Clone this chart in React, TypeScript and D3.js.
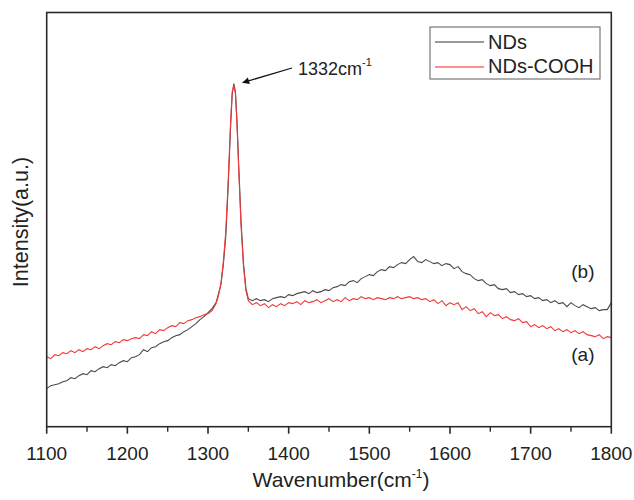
import React from "react";
import * as d3 from "d3";

// Wavenumber grid (cm-1)
const wnLow = d3.range(1100, 1301, 5);
const wnPeak = [1305, 1310, 1313, 1316, 1319, 1322, 1325, 1328, 1330, 1332, 1334, 1336, 1338, 1341, 1344, 1347, 1350, 1355];
const wnHigh = d3.range(1360, 1801, 5);
const wavenumbers = [...wnLow, ...wnPeak, ...wnHigh];

// NDs (b) intensity, arbitrary units
const ndsLow = [
  38, 41, 42, 43, 45, 46, 49, 48, 51, 53,
  52, 56, 55, 58, 60, 59, 62, 61, 64, 66,
  65, 69, 70, 72, 77, 75, 79, 80, 83, 85,
  86, 89, 91, 92, 95, 97, 100, 103, 107, 110,
  114,
];
const ndsPeak = [118, 124, 133, 142, 162, 190, 240, 300, 332, 343, 335, 305, 262, 205, 163, 138, 128, 126];
const ndsHigh = [
  128, 126, 127, 125, 128, 129, 130, 129, 132, 131,
  133, 134, 135, 133, 136, 134, 135, 137, 136, 139,
  140, 142, 141, 145, 146, 144, 148, 150, 152, 151,
  155, 157, 156, 160, 159, 162, 164, 163, 167, 170,
  165, 164, 167, 165, 163, 164, 161, 163, 162, 158,
  160, 155, 153, 152, 148, 146, 147, 143, 141, 142,
  138, 137, 138, 134, 135, 132, 133, 130, 131, 128,
  129, 126, 127, 124, 126, 123, 124, 120, 124, 121,
  119, 122, 120, 118, 119, 116, 117, 117, 124,
];

// NDs-COOH (a) intensity
const coohLow = [
  70, 68, 72, 71, 74, 73, 76, 74, 77, 75,
  78, 77, 80, 78, 81, 83, 82, 85, 84, 87,
  86, 88, 89, 88, 92, 91, 95, 93, 97, 96,
  99, 101, 100, 104, 103, 106, 107, 109, 110, 112,
  113,
];
const coohPeak = [116, 123, 131, 143, 165, 195, 245, 305, 335, 341, 333, 300, 258, 200, 160, 136, 126, 122];
const coohHigh = [
  124, 121, 123, 119, 122, 120, 123, 121, 124, 123,
  125, 122, 126, 124, 125, 127, 124, 126, 128, 125,
  127, 125, 129, 126, 128, 127, 130, 128, 129, 127,
  129, 128, 127, 129, 128, 130, 128, 129, 130, 128,
  129, 127, 128, 125, 127, 123, 126, 121, 124, 122,
  124, 117, 120, 116, 118, 113, 115, 110, 114, 111,
  112, 108, 110, 107, 106, 108, 104, 105, 100, 102,
  99, 101, 98, 100, 96, 98, 95, 97, 94, 96,
  93, 95, 92, 91, 90, 92, 88, 90, 89,
];

const ndsValues = [...ndsLow, ...ndsPeak, ...ndsHigh];
const coohValues = [...coohLow, ...coohPeak, ...coohHigh];

const majorTicks = [1100, 1200, 1300, 1400, 1500, 1600, 1700, 1800];
const minorTicks = [1150, 1250, 1350, 1450, 1550, 1650, 1750];

const seriesNames = ["NDs", "NDs-COOH"];
const seriesColors = ["#4a4a4a", "#f03a3a"];
const legendColors = ["#777777", "#ff6a6a"];
const curveLabels = ["(b)", "(a)"];
const peakLabel = "1332";
const peakPos = 1332;

const FONT = "Arial, 'Liberation Sans', Helvetica, sans-serif";

export default function App() {
  const W = 634;
  const H = 500;
  const left = 46.7;
  const right = 611.3;
  const top = 12.5;
  const bottom = 426.7;

  const x = d3.scaleLinear().domain([1100, 1800]).range([left, right]);
  const y = d3.scaleLinear().domain([0, 414]).range([bottom, top]);

  const mk = (vals: number[]) =>
    d3
      .line<number>()
      .x((_, i) => x(wavenumbers[i]))
      .y((v) => y(v))(vals.slice(0, wavenumbers.length)) || "";

  const peakIdx = wavenumbers.indexOf(peakPos);
  const peakX = x(peakPos);
  const peakY = y(Math.max(ndsValues[peakIdx], coohValues[peakIdx]));

  const lastIdx = wavenumbers.length - 1;

  return (
    <svg
      width={W}
      height={H}
      style={{ position: "absolute", left: 0, top: 0, background: "#fff" }}
      fontFamily={FONT}
    >
      <defs>
        <marker id="arr" viewBox="0 0 10 10" refX="9" refY="5" markerWidth="9" markerHeight="7" orient="auto" markerUnits="userSpaceOnUse">
          <path d="M0,0 L10,5 L0,10 z" fill="#111" />
        </marker>
      </defs>

      {/* series */}
      <path d={mk(ndsValues)} fill="none" stroke={seriesColors[0]} strokeWidth={1.1} />
      <path d={mk(coohValues)} fill="none" stroke={seriesColors[1]} strokeWidth={1.1} />

      {/* frame */}
      <rect x={left} y={top} width={right - left} height={bottom - top} fill="none" stroke="#2a2a2a" strokeWidth={1.6} />

      {/* x ticks */}
      {majorTicks.map((t) => (
        <g key={"M" + t}>
          <line x1={x(t)} x2={x(t)} y1={bottom} y2={bottom + 7} stroke="#2a2a2a" strokeWidth={1.6} />
          <text x={x(t)} y={bottom + 33} textAnchor="middle" fontSize={19} fill="#222">
            {t}
          </text>
        </g>
      ))}
      {minorTicks.map((t) => (
        <line key={"m" + t} x1={x(t)} x2={x(t)} y1={bottom} y2={bottom + 5} stroke="#2a2a2a" strokeWidth={1.4} />
      ))}

      {/* axis titles */}
      <text x={(left + right) / 2 + 12} y={487} textAnchor="middle" fontSize={21} fill="#222">
        Wavenumber(cm
        <tspan dy={-9} fontSize={12}>-1</tspan>
        <tspan dy={9}>)</tspan>
      </text>
      <text
        transform={`translate(28,${222}) rotate(-90)`}
        textAnchor="middle"
        fontSize={21.5}
        fill="#222"
      >
        Intensity(a.u.)
      </text>

      {/* peak annotation */}
      <line x1={292} y1={68} x2={peakX + 9} y2={peakY - 1} stroke="#111" strokeWidth={1.3} markerEnd="url(#arr)" />
      <text x={298} y={75} fontSize={18} fill="#222">
        {peakLabel}cm
        <tspan dy={-9} fontSize={11}>-1</tspan>
      </text>

      {/* curve labels */}
      <text x={x(wavenumbers[lastIdx]) - 40} y={y(ndsValues[lastIdx]) - 25} fontSize={19} fill="#222">
        {curveLabels[0]}
      </text>
      <text x={x(wavenumbers[lastIdx]) - 40} y={y(coohValues[lastIdx]) + 23} fontSize={19} fill="#222">
        {curveLabels[1]}
      </text>

      {/* legend */}
      <rect x={430} y={27} width={170} height={52} fill="#fff" stroke="#777" strokeWidth={1.2} />
      {seriesNames.map((n, i) => (
        <g key={n}>
          <line x1={435} x2={484} y1={42 + i * 25} y2={42 + i * 25} stroke={legendColors[i]} strokeWidth={1.3} />
          <text x={488} y={49 + i * 24} fontSize={20} fill="#222">
            {n}
          </text>
        </g>
      ))}
    </svg>
  );
}
